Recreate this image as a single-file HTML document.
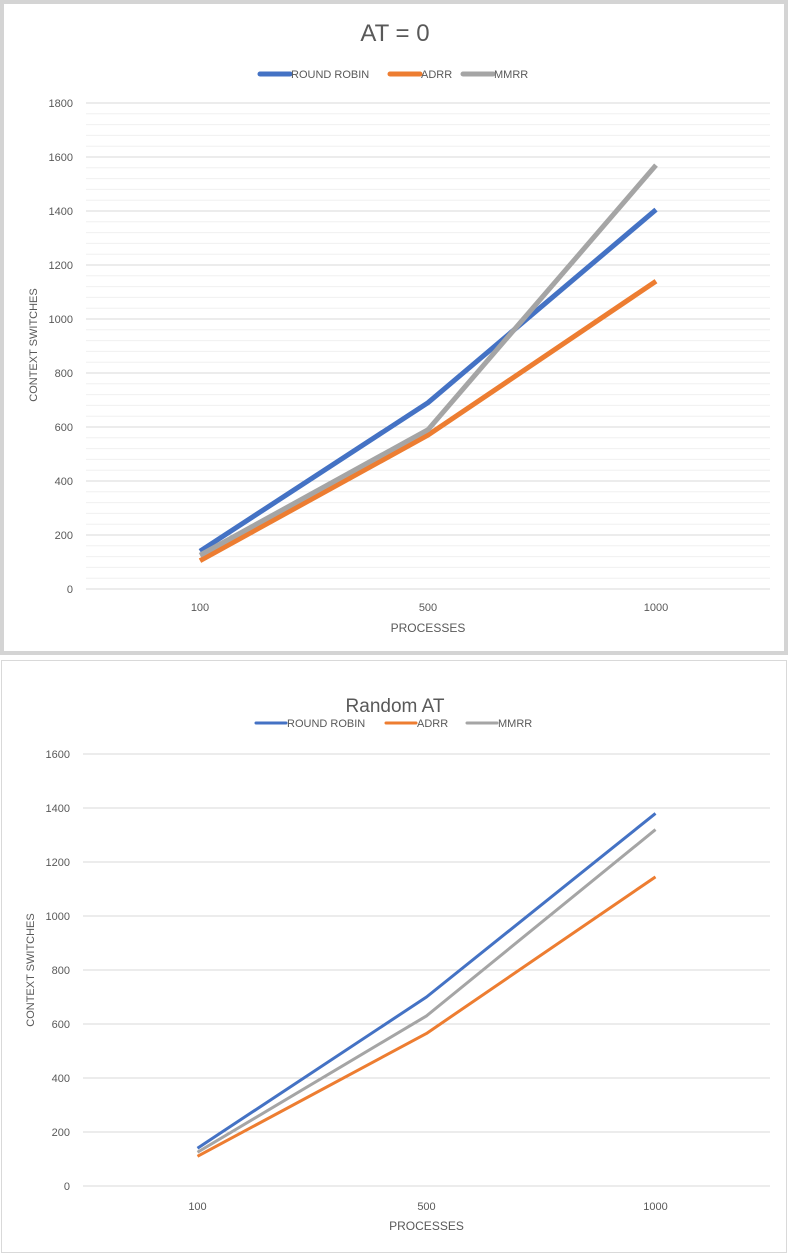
<!DOCTYPE html>
<html><head><meta charset="utf-8"><style>
body{margin:0;background:#fff;font-family:"Liberation Sans",sans-serif}
svg{display:block}
</style></head><body>
<svg width="789" height="1255" xmlns="http://www.w3.org/2000/svg">
<rect x="2" y="2" width="784" height="651" fill="#fff" stroke="#d4d4d4" stroke-width="4"/>
<rect x="1.5" y="660.5" width="785" height="592" fill="#fff" stroke="#d9d9d9" stroke-width="1"/>
<g id="top"></g><g id="bot"></g>
</svg>
<script>
const categories=["100","500","1000"];
const topRR=[140,690,1405], topADRR=[105,570,1140], topMMRR=[125,590,1570];
const botRR=[140,700,1380], botADRR=[110,565,1145], botMMRR=[125,630,1320];
const topTicks=[0,200,400,600,800,1000,1200,1400,1600,1800];
const botTicks=[0,200,400,600,800,1000,1200,1400,1600];
const colors=["#4472c4","#ed7d31","#a5a5a5"];
const names=["ROUND ROBIN","ADRR","MMRR"];
const NS="http://www.w3.org/2000/svg";
function mk(p,t,a,txt){const e=document.createElementNS(NS,t);for(const k in a)e.setAttribute(k,a[k]);if(txt!=null)e.textContent=txt;p.appendChild(e);return e;}
function chart(g,o){
 const x0=o.x0,x1=o.x1,y0=o.y0,max=o.max,ppu=o.ppu;
 const Y=v=>y0-v*ppu;
 const X=i=>x0+(x1-x0)/categories.length*(i+0.5);
 if(o.minor){for(let v=0;v<=max;v+=40){if(v%200===0)continue;const l=mk(g,'line',{x1:x0,x2:x1,y1:Y(v),y2:Y(v),stroke:'#f0f0f0','stroke-width':1});
 
 }}
 o.ticks.forEach(v=>{const l=mk(g,'line',{x1:x0,x2:x1,y1:Y(v),y2:Y(v),stroke:'#d9d9d9','stroke-width':1});
 
 
 const t=mk(g,'text',{x:o.tx,y:Y(v)+4,'text-anchor':'end','font-size':o.fs,fill:'#595959'},v);
 
 });
 categories.forEach((c,i)=>{const t=mk(g,'text',{x:X(i),y:o.xl,'text-anchor':'middle','font-size':o.fs,fill:'#595959'},c);
 
 });
 let t=mk(g,'text',{x:(x0+x1)/2,y:o.xt,'text-anchor':'middle','font-size':o.fs+1,fill:'#595959'},'PROCESSES');
 
 
 t=mk(g,'text',{x:o.yx,y:o.yc,'text-anchor':'middle','font-size':o.fs,fill:'#595959',transform:`rotate(-90 ${o.yx} ${o.yc})`},'CONTEXT SWITCHES');
 
 
 t=mk(g,'text',{x:395,y:o.ty,'text-anchor':'middle','font-size':o.tfs,fill:'#595959'},o.title);
 
 
 o.series.forEach((s,k)=>{const p=mk(g,'polyline',{points:s.map((v,i)=>X(i)+','+Y(v)).join(' '),fill:'none',stroke:colors[k],'stroke-width':o.lw,'stroke-linejoin':'round'});
 
 });
 o.leg.forEach((lx,k)=>{const l=mk(g,'line',{x1:lx,x2:lx+o.ll,y1:o.ly,y2:o.ly,stroke:colors[k],'stroke-width':o.lw,'stroke-linecap':'round'});
 
 
 const tt=mk(g,'text',{x:lx+o.ll+1,y:o.ly+4,'font-size':o.fs,fill:'#595959'},names[k]);
 
 });
}
chart(document.getElementById('top'),{x0:86,x1:770,y0:589,max:1800,ppu:0.27,ticks:topTicks,minor:true,tx:73,fs:11,xl:611,xt:632,yx:37,yc:345,ty:41,tfs:24,title:'AT = 0',series:[topRR,topADRR,topMMRR],lw:5,leg:[260,390,463],ll:30,ly:74});
chart(document.getElementById('bot'),{x0:83,x1:770,y0:1186,max:1600,ppu:0.27,ticks:botTicks,minor:false,tx:70,fs:11,xl:1210,xt:1230,yx:34,yc:970,ty:712,tfs:19,title:'Random AT',series:[botRR,botADRR,botMMRR],lw:3,leg:[256,386,467],ll:30,ly:723});
</script>
</body></html>
